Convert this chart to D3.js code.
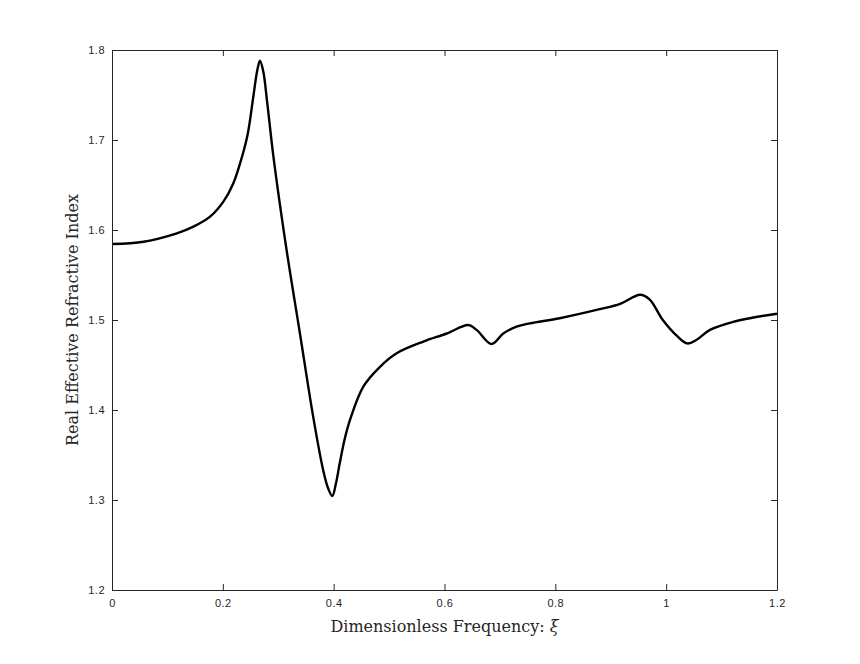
<!DOCTYPE html>
<html>
<head>
<meta charset="utf-8">
<script src="https://cdn.jsdelivr.net/npm/d3@7"></script>
<style>
  body { margin: 0; background: #fff; }
  svg { display: block; }
</style>
</head>
<body>
<div id="chart"></div>
<script>
// curve samples (xi, real effective index)
var xi = [0, 0.057, 0.117, 0.147, 0.177, 0.201, 0.219, 0.234, 0.245, 0.255, 0.262, 0.267,
          0.273, 0.280, 0.291, 0.315, 0.339, 0.363, 0.381, 0.390, 0.3975, 0.404, 0.411, 0.420,
          0.4295, 0.4535, 0.4836, 0.5137, 0.5618, 0.604, 0.643, 0.658, 0.685, 0.706, 0.730, 0.754,
          0.808, 0.880, 0.917, 0.953, 0.970, 0.994, 1.020, 1.038, 1.055, 1.079, 1.121, 1.160, 1.200];
var neff = [1.5844, 1.587, 1.5963, 1.6037, 1.6148, 1.6315, 1.652, 1.680, 1.707, 1.748, 1.777, 1.788,
            1.776, 1.742, 1.683, 1.578, 1.4856, 1.3926, 1.3333, 1.313, 1.3045, 1.318, 1.341, 1.368,
            1.389, 1.426, 1.448, 1.463, 1.476, 1.485, 1.4944, 1.489, 1.4733, 1.485, 1.4926, 1.4963,
            1.502, 1.512, 1.518, 1.528, 1.523, 1.500, 1.482, 1.474, 1.478, 1.489, 1.498, 1.503, 1.507];
var xTicks = [0, 0.2, 0.4, 0.6, 0.8, 1, 1.2];
var yTicks = [1.2, 1.3, 1.4, 1.5, 1.6, 1.7, 1.8];

var width = 860, height = 664;
var pl = 112, pt = 50, pr = 777, pb = 590;
var axisColor = "#262626";

var svg = d3.select("#chart").append("svg")
    .attr("width", width)
    .attr("height", height);

var x = d3.scaleLinear().domain([0, 1.2]).range([pl, pr]);
var y = d3.scaleLinear().domain([1.2, 1.8]).range([pb, pt]);

var data = xi.map(function (d, i) { return [d, neff[i]]; });

var line = d3.line()
    .x(function (d) { return x(d[0]); })
    .y(function (d) { return y(d[1]); })
    .curve(d3.curveCatmullRom.alpha(0.5));

svg.append("path")
    .datum(data)
    .attr("d", line)
    .attr("fill", "none")
    .attr("stroke", "#000")
    .attr("stroke-width", 2.4)
    .attr("stroke-linejoin", "round");

// box with inward ticks on all four sides (matlab style)
var tickLen = 6;
function styleAxis(g) {
    g.select(".domain").attr("stroke", axisColor).attr("stroke-width", 1);
    g.selectAll(".tick line").attr("stroke", axisColor);
    g.selectAll(".tick text")
        .attr("fill", axisColor)
        .style("font-family", "'Liberation Sans', Arial, sans-serif")
        .style("font-size", "11px")
        .style("letter-spacing", "0.5px");
}

svg.append("g")
    .attr("transform", "translate(0," + pb + ")")
    .call(d3.axisBottom(x).tickValues(xTicks).tickSizeInner(-tickLen).tickSizeOuter(0)
        .tickPadding(9).tickFormat(d3.format("")))
    .call(styleAxis);

svg.append("g")
    .attr("transform", "translate(0," + pt + ")")
    .call(d3.axisTop(x).tickValues(xTicks).tickSizeInner(-tickLen).tickSizeOuter(0).tickFormat(""))
    .call(styleAxis);

svg.append("g")
    .attr("transform", "translate(" + pl + ",0)")
    .call(d3.axisLeft(y).tickValues(yTicks).tickSizeInner(-tickLen).tickSizeOuter(0)
        .tickPadding(7).tickFormat(d3.format(".1f")))
    .call(styleAxis);

svg.append("g")
    .attr("transform", "translate(" + pr + ",0)")
    .call(d3.axisRight(y).tickValues(yTicks).tickSizeInner(-tickLen).tickSizeOuter(0).tickFormat(""))
    .call(styleAxis);

// axis labels (latex-ish serif)
var xl = svg.append("text")
    .attr("x", (pl + pr) / 2)
    .attr("y", 632)
    .attr("text-anchor", "middle")
    .attr("fill", axisColor)
    .style("font-family", "'DejaVu Serif', 'Liberation Serif', serif")
    .style("font-size", "16px");
xl.append("tspan").text("Dimensionless Frequency: ");
xl.append("tspan").style("font-style", "italic").text("ξ");

svg.append("text")
    .attr("transform", "translate(78," + (pt + pb) / 2 + ") rotate(-90)")
    .attr("text-anchor", "middle")
    .attr("fill", axisColor)
    .style("font-family", "'DejaVu Serif', 'Liberation Serif', serif")
    .style("font-size", "16px")
    .text("Real Effective Refractive Index");
</script>
</body>
</html>
